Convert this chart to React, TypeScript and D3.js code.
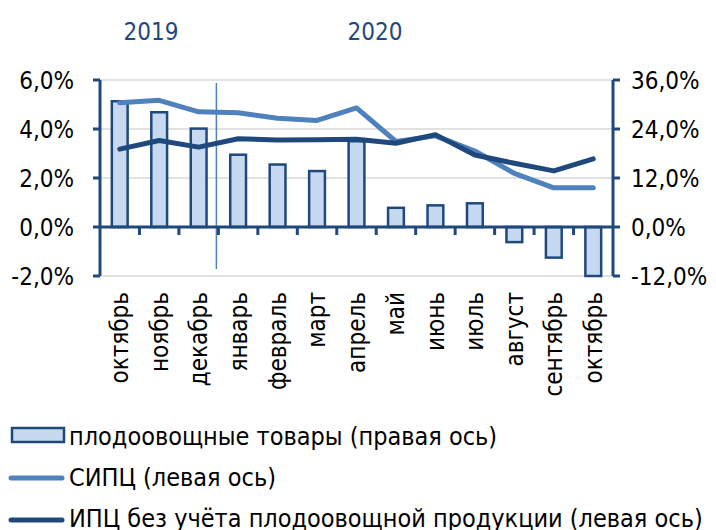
import React from 'react';
import * as d3 from 'd3';

const months = ['октябрь', 'ноябрь', 'декабрь', 'январь', 'февраль', 'март', 'апрель', 'май', 'июнь', 'июль', 'август', 'сентябрь', 'октябрь'];
const fruitVeg = [30.8, 28.1, 24.1, 17.7, 15.3, 13.7, 21.0, 4.7, 5.3, 5.8, -3.7, -7.5, -12.0];
const hicp = [5.07, 5.17, 4.7, 4.66, 4.44, 4.35, 4.86, 3.49, 3.72, 3.1, 2.19, 1.6, 1.6];
const cpiEx = [3.18, 3.53, 3.26, 3.6, 3.55, 3.56, 3.58, 3.42, 3.77, 2.94, 2.6, 2.29, 2.78];
const leftTicks = [-2, 0, 2, 4, 6];
const rightTicks = [-12, 0, 12, 24, 36];
// year label positions, in category steps from the left axis
const years = [
  { label: '2019', at: 1.29 },
  { label: '2020', at: 6.97 },
];
const legendItems = ['плодоовощные товары (правая ось)', 'СИПЦ (левая ось)', 'ИПЦ без учёта плодоовощной продукции (левая ось)'];

const W = 716;
const H = 530;
const left = 100;
const right = 613;
const top = 80;
const bottom = 276;

const dark = '#1f497d';
const light = '#4f81bd';
const barFill = '#c6d9f1';
const font = '"DejaVu Sans Condensed", "Liberation Sans Narrow", sans-serif';

const fmt = (v: number) => v.toFixed(1).replace('.', ',') + '%';

export default function App() {
  const idx = months.map((_, i) => i);
  const x = d3.scaleBand<number>().domain(idx).range([left, right]).paddingInner(0.6).paddingOuter(0.3);
  const step = x.step();
  const cx = (i: number) => (x(i) as number) + x.bandwidth() / 2;
  const yL = d3.scaleLinear().domain([-2, 6]).range([bottom, top]);
  const yR = d3.scaleLinear().domain([-12, 36]).range([bottom, top]);

  const line = d3.line<number>().x((_, i) => cx(i)).y(d => yL(d));
  const sepX = left + step * 3 - 2;

  return (
    <svg width={W} height={H} style={{ position: 'absolute', left: 0, top: 0 }} fontFamily={font}>
      {/* gridlines */}
      {leftTicks.filter(t => t !== 0).map(t => (
        <line key={t} x1={left} x2={right} y1={yL(t)} y2={yL(t)} stroke="#d9d9d9" strokeWidth={1.5} />
      ))}

      {/* bars */}
      {fruitVeg.map((v, i) => (
        <rect key={i} x={x(i)} width={x.bandwidth()} y={yR(Math.max(0, v))} height={Math.abs(yR(v) - yR(0))}
          fill={barFill} stroke={dark} strokeWidth={2.5} />
      ))}

      {/* year separator */}
      <line x1={sepX} x2={sepX} y1={83} y2={269} stroke={light} strokeWidth={1.5} />

      {/* zero axis */}
      <line x1={left} x2={right} y1={yL(0)} y2={yL(0)} stroke={dark} strokeWidth={3} />
      {idx.slice(1).map(i => (
        <line key={i} x1={left + step * i} x2={left + step * i} y1={yL(0)} y2={yL(0) + 8} stroke={dark} strokeWidth={3} />
      ))}

      {/* lines */}
      <path d={line(hicp) || ''} fill="none" stroke={light} strokeWidth={5} strokeLinejoin="round" strokeLinecap="round" />
      <path d={line(cpiEx) || ''} fill="none" stroke={dark} strokeWidth={5} strokeLinejoin="round" strokeLinecap="round" />

      {/* left axis */}
      <line x1={left} x2={left} y1={top} y2={bottom} stroke={dark} strokeWidth={3} />
      {leftTicks.map(t => (
        <g key={t}>
          <line x1={left - 7} x2={left} y1={yL(t)} y2={yL(t)} stroke={dark} strokeWidth={3} />
          <text x={74} y={yL(t)} dy="0.36em" textAnchor="end" fontSize={24} fill="#000">{fmt(t)}</text>
        </g>
      ))}

      {/* right axis */}
      <line x1={right} x2={right} y1={top} y2={bottom} stroke={dark} strokeWidth={3} />
      {rightTicks.map(t => (
        <g key={t}>
          <line x1={right} x2={right + 7} y1={yR(t)} y2={yR(t)} stroke={dark} strokeWidth={3} />
          <text x={631} y={yR(t)} dy="0.36em" textAnchor="start" fontSize={24} fill="#000">{fmt(t)}</text>
        </g>
      ))}

      {/* month labels */}
      {months.map((m, i) => (
        <text key={i} transform={`translate(${cx(i)},292) rotate(-90)`} dy="0.35em" textAnchor="end" fontSize={24} fill="#000">{m}</text>
      ))}

      {/* year labels */}
      {years.map(yr => (
        <text key={yr.label} x={left + step * yr.at} y={40} textAnchor="middle" fontSize={24} fill={dark}>{yr.label}</text>
      ))}

      {/* legend */}
      <rect x={12} y={428} width={52} height={14} fill={barFill} stroke={dark} strokeWidth={2.5} />
      <line x1={11} x2={62} y1={478} y2={478} stroke={light} strokeWidth={5} strokeLinecap="round" />
      <line x1={11} x2={62} y1={520} y2={520} stroke={dark} strokeWidth={5} strokeLinecap="round" />
      {legendItems.map((l, i) => (
        <text key={i} x={69} y={445 + i * 41} fontSize={25} fill="#000">{l}</text>
      ))}
    </svg>
  );
}
